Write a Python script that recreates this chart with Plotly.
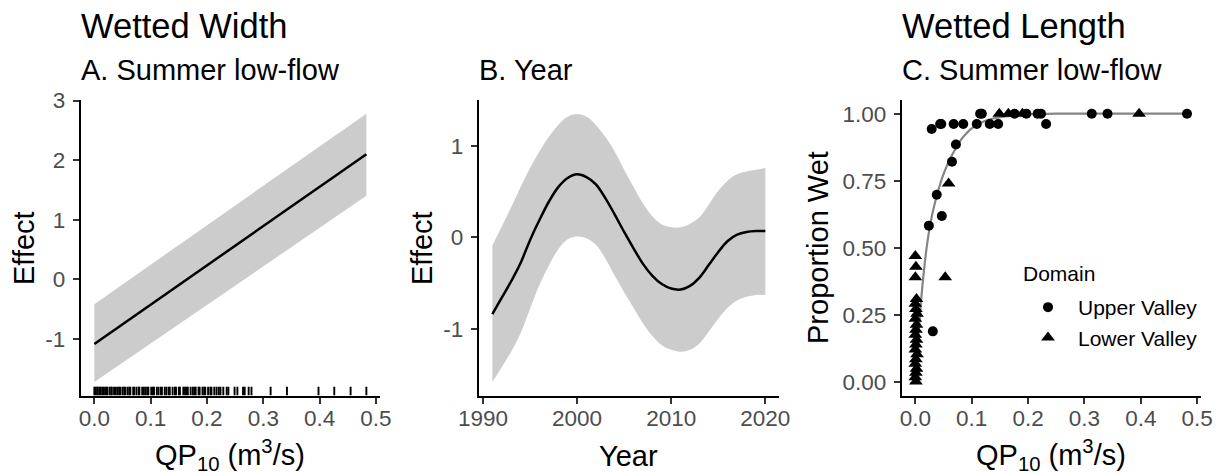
import plotly.graph_objects as go

# ---------------- data ----------------
# Panel A: Wetted width ~ summer low-flow (linear smooth)
a_x = [0.0, 0.483]
a_fit = [-1.09, 2.10]
a_upper = [-0.42, 2.78]
a_lower = [-1.73, 1.40]
a_rug = [0.000, 0.002, 0.005, 0.006, 0.009, 0.011, 0.014, 0.016, 0.019, 0.022, 0.023,
         0.027, 0.030, 0.031, 0.035, 0.038, 0.041, 0.044, 0.046, 0.050, 0.053, 0.055,
         0.059, 0.062, 0.064, 0.069, 0.071, 0.075, 0.079, 0.080, 0.085, 0.088, 0.091,
         0.094, 0.096, 0.101, 0.104, 0.106, 0.111, 0.114, 0.118, 0.120, 0.125, 0.128,
         0.132, 0.134, 0.139, 0.143, 0.145, 0.150, 0.152, 0.158, 0.161, 0.164, 0.166,
         0.171, 0.175, 0.178, 0.180, 0.185, 0.187, 0.192, 0.195, 0.197, 0.202, 0.206,
         0.208, 0.213, 0.217, 0.221, 0.224, 0.229, 0.235, 0.238, 0.249, 0.254, 0.264,
         0.267, 0.274, 0.279, 0.313, 0.342, 0.398, 0.426, 0.455, 0.483]

# Panel B: Wetted width ~ year (smooth)
b_year = list(range(1991, 2021))
b_fit = [-0.84, -0.66, -0.48, -0.28, -0.03, 0.19, 0.39, 0.55, 0.65, 0.69,
         0.66, 0.58, 0.43, 0.25, 0.06, -0.12, -0.29, -0.42, -0.51, -0.56,
         -0.57, -0.53, -0.44, -0.30, -0.16, -0.04, 0.03, 0.06, 0.07, 0.07]
b_upper = [-0.09, 0.12, 0.33, 0.55, 0.76, 0.94, 1.10, 1.23, 1.32, 1.35,
           1.32, 1.23, 1.10, 0.94, 0.74, 0.55, 0.37, 0.23, 0.14, 0.11,
           0.11, 0.15, 0.22, 0.36, 0.51, 0.62, 0.69, 0.72, 0.74, 0.76]
b_lower = [-1.58, -1.42, -1.25, -1.05, -0.78, -0.52, -0.31, -0.13, -0.02, 0.01,
           -0.01, -0.08, -0.23, -0.42, -0.60, -0.77, -0.94, -1.08, -1.18, -1.23,
           -1.25, -1.23, -1.16, -1.03, -0.89, -0.77, -0.69, -0.65, -0.63, -0.63]

# Panel C: Wetted length, proportion wet ~ summer low-flow
upper_x = [0.024, 0.031, 0.029, 0.038, 0.047, 0.044, 0.046, 0.065, 0.072, 0.068,
           0.085, 0.109, 0.115, 0.118, 0.132, 0.147, 0.176, 0.197, 0.217, 0.223,
           0.232, 0.313, 0.341, 0.482]
upper_p = [0.583, 0.189, 0.943, 0.698, 0.619, 0.962, 0.962, 0.821, 0.885, 0.962,
           0.962, 0.962, 1.000, 1.000, 0.962, 0.962, 1.000, 1.000, 1.000, 1.000,
           0.962, 1.000, 1.000, 1.000]
lower_x = [0.000, 0.001, 0.000, 0.002, 0.000, 0.001, 0.003, 0.000, 0.002, 0.001,
           0.000, 0.002, 0.001, 0.000, 0.003, 0.001, 0.000, 0.002, 0.001, 0.000,
           0.001, 0.053, 0.059, 0.149, 0.165, 0.190, 0.397]
lower_p = [0.470, 0.430, 0.391, 0.310, 0.292, 0.272, 0.255, 0.236, 0.214, 0.195,
           0.176, 0.158, 0.140, 0.121, 0.104, 0.085, 0.068, 0.050, 0.035, 0.018,
           0.002, 0.391, 0.740, 1.000, 1.000, 1.000, 1.000]
curve_x = [0.0, 0.005, 0.01, 0.015, 0.02, 0.025, 0.03, 0.035, 0.04, 0.05, 0.06,
           0.07, 0.08, 0.09, 0.10, 0.12, 0.14, 0.16, 0.20, 0.25, 0.30, 0.40, 0.483]
curve_p = [0.0, 0.16, 0.30, 0.41, 0.50, 0.57, 0.625, 0.67, 0.71, 0.775, 0.825,
           0.865, 0.90, 0.925, 0.945, 0.97, 0.983, 0.99, 0.997, 1.0, 1.0, 1.0, 1.0]

q_ticks = [0.0, 0.1, 0.2, 0.3, 0.4, 0.5]
q_ticklabels = ["0.0", "0.1", "0.2", "0.3", "0.4", "0.5"]
a_yticks = [-1, 0, 1, 2, 3]
a_yticklabels = ["-1", "0", "1", "2", "3"]
b_xticks = [1990, 2000, 2010, 2020]
b_yticks = [-1, 0, 1]
b_yticklabels = ["-1", "0", "1"]
c_yticks = [0.0, 0.25, 0.5, 0.75, 1.0]
c_yticklabels = ["0.00", "0.25", "0.50", "0.75", "1.00"]

# ---------------- figure ----------------
# The page body has an 8px margin, so the figure is drawn 8px in from the window corner.
OFF = 8
W, H = 1221 - OFF, 473 - OFF
FONT = "Liberation Sans, Arial, sans-serif"
BAND = "#CCCCCC"
TICKC = "#4D4D4D"


def px(x):
    return (x - OFF) / W


def py(y):
    return 1 - (y - OFF) / H


fig = go.Figure()

# Panel A
fig.add_trace(go.Scatter(x=a_x, y=a_lower, mode="lines", line=dict(width=0),
                         hoverinfo="skip", showlegend=False, xaxis="x", yaxis="y"))
fig.add_trace(go.Scatter(x=a_x, y=a_upper, mode="lines", line=dict(width=0), fill="tonexty",
                         fillcolor=BAND, hoverinfo="skip", showlegend=False,
                         xaxis="x", yaxis="y"))
fig.add_trace(go.Scatter(x=a_x, y=a_fit, mode="lines", line=dict(color="black", width=2.5),
                         showlegend=False, xaxis="x", yaxis="y"))
rug_x, rug_y = [], []
for v in a_rug:
    rug_x += [v, v, None]
    rug_y += [0, 0.03, None]
fig.add_trace(go.Scatter(x=rug_x, y=rug_y, mode="lines", line=dict(color="black", width=1.9),
                         showlegend=False, xaxis="x", yaxis="y4"))

# Panel B
fig.add_trace(go.Scatter(x=b_year, y=b_lower, mode="lines",
                         line=dict(width=0, shape="spline"),
                         hoverinfo="skip", showlegend=False, xaxis="x2", yaxis="y2"))
fig.add_trace(go.Scatter(x=b_year, y=b_upper, mode="lines", fill="tonexty", fillcolor=BAND,
                         line=dict(width=0, shape="spline"),
                         hoverinfo="skip", showlegend=False, xaxis="x2", yaxis="y2"))
fig.add_trace(go.Scatter(x=b_year, y=b_fit, mode="lines",
                         line=dict(color="black", width=2.5, shape="spline"),
                         showlegend=False, xaxis="x2", yaxis="y2"))

# Panel C
fig.add_trace(go.Scatter(x=curve_x, y=curve_p, mode="lines",
                         line=dict(color="#858585", width=2.2, shape="spline"),
                         showlegend=False, xaxis="x3", yaxis="y3"))
fig.add_trace(go.Scatter(x=upper_x, y=upper_p, mode="markers", name="Upper Valley",
                         marker=dict(symbol="circle", size=10, color="black"),
                         xaxis="x3", yaxis="y3"))
fig.add_trace(go.Scatter(x=lower_x, y=lower_p, mode="markers", name="Lower Valley",
                         marker=dict(symbol="triangle-up", size=12, color="black"),
                         xaxis="x3", yaxis="y3"))

ydom = [py(395.5), py(100.3)]
common = dict(showline=True, linecolor="black", linewidth=2, ticks="outside", ticklen=6,
              tickwidth=1.6, tickcolor="#333333", showgrid=False, zeroline=False,
              automargin=False,
              tickfont=dict(family=FONT, size=22.5, color=TICKC))
xcommon = dict(ticklabelstandoff=-5, **common)
ycommon = dict(ticklabelstandoff=3, **common)

fig.update_layout(
    template="none",
    width=W, height=H,
    margin=dict(l=0, r=0, t=0, b=0, pad=0),
    paper_bgcolor="white", plot_bgcolor="white",
    font=dict(family=FONT, color="black"),
    xaxis=dict(domain=[px(80.7), px(380)], range=[-0.0242, 0.5072], tickvals=q_ticks,
               ticktext=q_ticklabels, anchor="y", **xcommon),
    yaxis=dict(domain=ydom, range=[-1.955, 3.005], tickvals=a_yticks, ticktext=a_yticklabels,
               anchor="x", **ycommon),
    yaxis4=dict(overlaying="y", range=[0, 1], visible=False, anchor="x", automargin=False),
    xaxis2=dict(domain=[px(478.7), px(779)], range=[1989.55, 2021.45], tickvals=b_xticks,
                anchor="y2", **xcommon),
    yaxis2=dict(domain=ydom, range=[-1.73, 1.50], tickvals=b_yticks, ticktext=b_yticklabels,
                anchor="x2", **ycommon),
    xaxis3=dict(domain=[px(901.7), px(1201.2)], range=[-0.0242, 0.5072], tickvals=q_ticks,
                ticktext=q_ticklabels, anchor="y3", **xcommon),
    yaxis3=dict(domain=ydom, range=[-0.05, 1.05], tickvals=c_yticks, ticktext=c_yticklabels,
                anchor="x3", **ycommon),
    legend=dict(x=px(1018), y=py(287), xanchor="left", yanchor="top", traceorder="normal",
                bgcolor="rgba(0,0,0,0)", itemwidth=50,
                font=dict(family=FONT, size=21, color="black")),
)

ann = []


def text(t, x, y, size, xanchor="left", angle=0):
    ann.append(dict(text=t, x=px(x), y=py(y), xref="paper", yref="paper", showarrow=False,
                    xanchor=xanchor, yanchor="middle", textangle=angle,
                    font=dict(family=FONT, size=size, color="black")))


text("Wetted Width", 79, 25.8, 34.5)
text("A. Summer low-flow", 79, 70, 29)
text("B. Year", 477, 70, 29)
text("Wetted Length", 900, 25.8, 34.5)
text("C. Summer low-flow", 900, 70, 29)
qlab = "QP<sub>10</sub> (m<sup>3</sup>/s)"
text(qlab, 230.4, 455, 29, "center")
text("Year", 628.8, 456, 29, "center")
text(qlab, 1051.4, 455, 29, "center")
text("Effect", 24, 248, 29, "center", -90)
text("Effect", 422, 248, 29, "center", -90)
text("Proportion Wet", 818, 248, 29, "center", -90)
text("Domain", 1020.5, 273, 21)
fig.update_layout(annotations=ann)

fig.write_html("out.html")
